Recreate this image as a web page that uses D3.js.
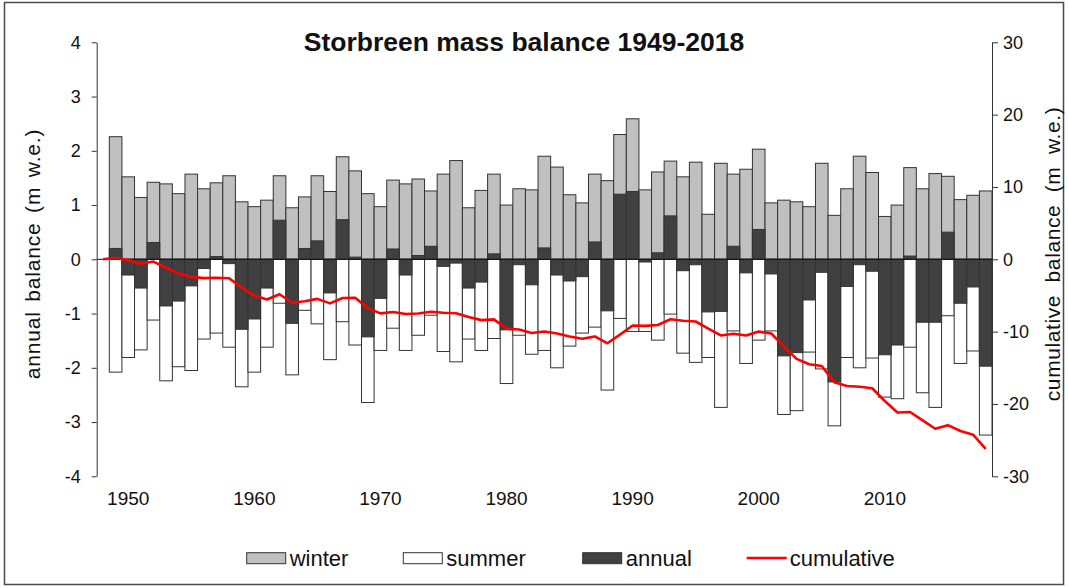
<!DOCTYPE html>
<html>
<head>
<meta charset="utf-8">
<script src="https://cdn.jsdelivr.net/npm/d3@7"></script>
<style>
  html, body { margin: 0; padding: 0; background: #fff; }
  svg { display: block; font-family: "Liberation Sans", Arial, sans-serif; }
</style>
</head>
<body>
<svg id="chart" width="1068" height="588"></svg>
<script>
// ---------- data ----------
const years = d3.range(1949, 2019);          // 1949 ... 2018
const lineYears = d3.range(1948, 2019);      // cumulative starts at 0 in 1948

const winter = [
  2.26, 1.52, 1.14, 1.42, 1.39, 1.21, 1.57, 1.30, 1.41, 1.54,
  1.06, 0.97, 1.09, 1.54, 0.95, 1.15, 1.54, 1.25, 1.89, 1.63,
  1.21, 0.97, 1.46, 1.39, 1.48, 1.26, 1.57, 1.82, 0.95, 1.27,
  1.57, 1.00, 1.30, 1.28, 1.90, 1.70, 1.19, 1.04, 1.57, 1.45,
  2.30, 2.59, 1.28, 1.61, 1.81, 1.52, 1.79, 0.83, 1.77, 1.57,
  1.66, 2.03, 1.04, 1.09, 1.06, 0.97, 1.77, 0.81, 1.30, 1.90,
  1.60, 0.79, 1.00, 1.69, 1.30, 1.58, 1.53, 1.10, 1.18, 1.26
];

const summer = [
  -2.08, -1.81, -1.67, -1.12, -2.24, -1.98, -2.05, -1.47, -1.36, -1.62,
  -2.35, -2.08, -1.62, -0.81, -2.13, -0.94, -1.19, -1.85, -1.15, -1.58,
  -2.64, -1.68, -1.27, -1.68, -1.40, -1.03, -1.70, -1.89, -1.47, -1.68,
  -1.46, -2.29, -1.40, -1.75, -1.68, -2.00, -1.60, -1.36, -1.25, -2.41,
  -1.09, -1.33, -1.33, -1.49, -1.01, -1.73, -1.90, -1.81, -2.73, -1.32,
  -1.92, -1.49, -1.32, -2.86, -2.79, -1.71, -2.02, -3.07, -1.81, -2.00,
  -1.82, -2.54, -2.57, -1.62, -2.46, -2.73, -1.04, -1.92, -1.69, -3.24
];

const annual = [
   0.20, -0.29, -0.53,  0.31, -0.86, -0.77, -0.49, -0.17,  0.05, -0.08,
  -1.29, -1.10, -0.53,  0.72, -1.18,  0.20,  0.34, -0.62,  0.73,  0.04,
  -1.43, -0.72,  0.19, -0.29,  0.07,  0.24, -0.13, -0.07, -0.53, -0.42,
   0.10, -1.30, -0.10, -0.47,  0.21, -0.29, -0.40, -0.32,  0.32, -0.95,
   1.20,  1.25, -0.05,  0.12,  0.80, -0.21, -0.10, -0.97, -0.96,  0.24,
  -0.25,  0.55, -0.27, -1.78, -1.72, -0.75, -0.24, -2.26, -0.50, -0.10,
  -0.22, -1.76, -1.58,  0.06, -1.16, -1.16,  0.50, -0.81, -0.51, -1.97
];

const cumulative = [
  0,
   0.20,  -0.09,  -0.62,  -0.31,  -1.17,  -1.94,  -2.43,  -2.60,  -2.55,  -2.63,
  -3.92,  -5.02,  -5.55,  -4.83,  -6.01,  -5.81,  -5.47,  -6.09,  -5.36,  -5.32,
  -6.75,  -7.47,  -7.28,  -7.57,  -7.50,  -7.26,  -7.39,  -7.46,  -7.99,  -8.41,
  -8.31,  -9.61,  -9.71, -10.18,  -9.97, -10.26, -10.66, -10.98, -10.66, -11.61,
 -10.41,  -9.16,  -9.21,  -9.09,  -8.29,  -8.50,  -8.60,  -9.57, -10.53, -10.29,
 -10.54,  -9.99, -10.26, -12.04, -13.76, -14.51, -14.75, -17.01, -17.51, -17.61,
 -17.83, -19.59, -21.17, -21.11, -22.27, -23.43, -22.93, -23.74, -24.25, -26.22
];

const leftTicks = [-4, -3, -2, -1, 0, 1, 2, 3, 4];
const rightTicks = [-30, -20, -10, 0, 10, 20, 30];
const xTickYears = [1950, 1960, 1970, 1980, 1990, 2000, 2010];

const titleText = "Storbreen mass balance 1949-2018";
const leftLabel = "annual balance (m w.e.)";
const rightLabel = "cumulative balance (m w.e.)";
const legendItems = [
  { key: "winter", label: "winter" },
  { key: "summer", label: "summer" },
  { key: "annual", label: "annual" },
  { key: "cumulative", label: "cumulative" }
];

// ---------- layout ----------
const colors = { winter: "#c0c0c0", summer: "#ffffff", annual: "#404040", cumulative: "#ff0000", stroke: "#333333" };
const plot = { left: 96.7, right: 992, top: 42.3, bottom: 476.3 };
const fontFamily = "Liberation Sans, Arial, sans-serif";
const plainNum = d => String(d);   // hyphen-minus as in the reference

const svg = d3.select("#chart");

// outer frame
svg.append("rect")
  .attr("x", 4.5).attr("y", 2.5).attr("width", 1059).attr("height", 582)
  .attr("fill", "none").attr("stroke", "#4a4a4a").attr("stroke-width", 1.5);

const x = d3.scaleBand().domain(lineYears).range([plot.left, plot.right]).padding(0);
const yL = d3.scaleLinear().domain([-4, 4]).range([plot.bottom, plot.top]);
const yR = d3.scaleLinear().domain([-30, 30]).range([plot.bottom, plot.top]);

const bw = x.bandwidth();

function drawBars(cls, values, fill) {
  svg.append("g").attr("class", cls)
    .selectAll("rect").data(years.map((yr, i) => ({ yr, v: values[i] })))
    .join("rect")
    .attr("x", d => x(d.yr))
    .attr("width", bw)
    .attr("y", d => yL(Math.max(0, d.v)))
    .attr("height", d => Math.abs(yL(d.v) - yL(0)))
    .attr("fill", fill)
    .attr("stroke", colors.stroke)
    .attr("stroke-width", 1);
}
drawBars("winter", winter, colors.winter);
drawBars("summer", summer, colors.summer);
drawBars("annual", annual, colors.annual);

// zero line
svg.append("line")
  .attr("x1", plot.left).attr("x2", plot.right)
  .attr("y1", yL(0)).attr("y2", yL(0))
  .attr("stroke", "#111").attr("stroke-width", 1);

// cumulative line
const line = d3.line()
  .x((d, i) => x(lineYears[i]) + bw / 2)
  .y(d => yR(d));
svg.append("path")
  .datum(cumulative)
  .attr("d", line)
  .attr("fill", "none")
  .attr("stroke", colors.cumulative)
  .attr("stroke-width", 2.6)
  .attr("stroke-linejoin", "round");

// left axis
const gL = svg.append("g")
  .attr("transform", `translate(${plot.left},0)`)
  .call(d3.axisLeft(yL).tickValues(leftTicks).tickSize(5).tickSizeOuter(0).tickPadding(11).tickFormat(plainNum));
gL.selectAll("path, line").attr("stroke", "#333");
gL.selectAll("text").attr("font-size", 18).attr("fill", "#111").attr("font-family", fontFamily);

// right axis
const gR = svg.append("g")
  .attr("transform", `translate(${plot.right},0)`)
  .call(d3.axisRight(yR).tickValues(rightTicks).tickSize(6).tickSizeOuter(0).tickPadding(5).tickFormat(plainNum));
gR.selectAll("path, line").attr("stroke", "#333");
gR.selectAll("text").attr("font-size", 18).attr("fill", "#111").attr("font-family", fontFamily);

// x axis (labels only)
const gX = svg.append("g")
  .attr("transform", `translate(0,${plot.bottom + 10})`)
  .call(d3.axisBottom(x).tickValues(xTickYears).tickSize(0).tickPadding(5).tickFormat(plainNum));
gX.select(".domain").remove();
gX.selectAll("text").attr("font-size", 19).attr("fill", "#111").attr("font-family", fontFamily);

// title
svg.append("text")
  .attr("x", 524).attr("y", 51)
  .attr("text-anchor", "middle")
  .attr("font-size", 26.5).attr("font-weight", "bold").attr("fill", "#111")
  .text(titleText);

// axis titles
svg.append("text")
  .attr("transform", "translate(40,254) rotate(-90)")
  .attr("text-anchor", "middle")
  .attr("font-size", 21).attr("fill", "#111")
  .attr("letter-spacing", 0.8).attr("word-spacing", 3)
  .text(leftLabel);

svg.append("text")
  .attr("transform", "translate(1060,254) rotate(-90)")
  .attr("text-anchor", "middle")
  .attr("font-size", 21).attr("fill", "#111")
  .attr("letter-spacing", 0.6).attr("word-spacing", 6)
  .text(rightLabel);

// legend
const legendX = [246.7, 403.3, 582.7, 746.7];
const lg = svg.append("g").attr("class", "legend");
legendItems.forEach((it, i) => {
  const g = lg.append("g").attr("transform", `translate(${legendX[i]},0)`);
  if (it.key === "cumulative") {
    g.append("line").attr("x1", 0).attr("x2", 40).attr("y1", 558).attr("y2", 558)
      .attr("stroke", colors.cumulative).attr("stroke-width", 2.6);
  } else {
    g.append("rect").attr("x", 0).attr("y", 552.7).attr("width", 39).attr("height", 11)
      .attr("fill", colors[it.key]).attr("stroke", colors.stroke).attr("stroke-width", 1);
  }
  g.append("text").attr("x", 43).attr("y", 565.5)
    .attr("font-size", 22).attr("fill", "#111")
    .text(it.label);
});
</script>
</body>
</html>
